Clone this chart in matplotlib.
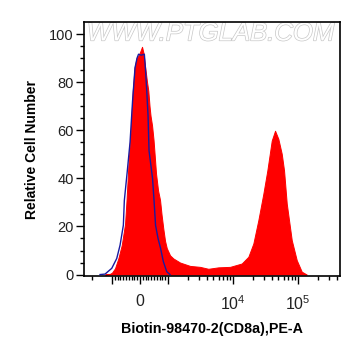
import numpy as np
import matplotlib
matplotlib.use("Agg")
import matplotlib.pyplot as plt  # noqa: E402
import matplotlib.patheffects as pe  # noqa: E402

plt.rcParams["font.family"] = ["Liberation Sans", "DejaVu Sans"]
plt.rcParams["mathtext.fontset"] = "custom"
plt.rcParams["mathtext.rm"] = "Liberation Sans"

# CD8a stained sample (red, filled) - fluorescence value vs relative count
stain_x = [-1281, -1073, -1000, -893, -775, -654, -536, -482, -418, -382,
           -321, -261, -196, -125, -54, 18, 71, 125, 196, 250,
           296, 339, 375, 429, 482, 511, 571, 643, 714, 768,
           832, 893, 954, 1073, 1206, 1530, 2180, 3106, 4169, 5940,
           8990, 13610, 17200, 20530, 24500, 29260, 33710, 39390, 44290, 49780,
           56130, 60900, 67030, 80020, 95500, 114000, 136100]
stain_y = [0, 0.3, 0.8, 2.6, 6.7, 12.2, 21, 31, 45, 51.5,
           62, 76.4, 86, 90, 91, 93, 94.7, 92, 85, 80,
           76.4, 70, 66, 62, 56, 51.5, 42, 35, 31, 25,
           19, 14, 11, 8, 6.7, 5, 3.6, 3.2, 2.4, 3.0,
           3.2, 4.6, 7.4, 12.9, 22.6, 33.6, 43.3, 55.7, 59.8, 56.4,
           50.2, 43.3, 29.5, 14.3, 6.0, 1.2, 0]

# control sample (blue line)
ctrl_x = [-1530, -1281, -1010, -832, -714, -596, -561, -464, -357, -268,
          -179, -107, -54, 36, 154, 196, 239, 286, 321, 446,
          500, 554, 643, 732, 832, 954, 1073]
ctrl_y = [0, 0.2, 2.6, 6.7, 12.2, 20.5, 30.8, 42, 55, 72,
          86, 90, 91.6, 91.2, 91.6, 85, 76.4, 66, 51.5, 40,
          30.8, 20.5, 15, 11, 5.4, 1.2, 0]

major_ticks = [-1000, 0, 1000, 1e4, 1e5]
major_labels = ["", "0", "", r"$10^4$", r"$10^5$"]
minor_ticks = ([-2000] + list(range(-900, 0, 100)) + list(range(100, 1000, 100))
               + list(range(2000, 10000, 1000)) + list(range(20000, 100000, 10000))
               + [200000, 300000, 400000])

fig = plt.figure(figsize=(3.61, 3.56), dpi=100)
ax = fig.add_axes([0.2327, 0.2247, 0.7091, 0.7135])

ax.set_xscale("symlog", linthresh=1000, linscale=0.3877)
ax.fill_between(stain_x, stain_y, 0, facecolor="#ff0000", edgecolor="#ff0000",
                lw=0.7, zorder=2)
ax.plot(ctrl_x, ctrl_y, color="#1a1aa0", lw=1.0, zorder=3)

ax.set_xlim(-2700, 442000)
ax.set_ylim(-0.6, 105)

ax.set_xticks(major_ticks)
ax.set_xticklabels(major_labels)
ax.set_xticks(minor_ticks, minor=True)
ax.set_yticks([0, 20, 40, 60, 80, 100])
ax.set_yticks(np.arange(5, 105, 5), minor=True)
ax.tick_params(which="major", length=6, width=1, labelsize=10.5, colors="black",
               labelcolor="#222222")
ax.tick_params(which="minor", length=3, width=1)
ax.tick_params(axis="x", which="major", pad=7, labelsize=11.5)
ax.tick_params(axis="y", which="major", pad=1.5)

for s in ax.spines.values():
    s.set_linewidth(1.2)

ax.set_xlabel("Biotin-98470-2(CD8a),PE-A", fontsize=10.3, fontweight="bold", labelpad=7)
ax.set_ylabel("Relative Cell Number", fontsize=10, fontweight="bold", labelpad=7)

ax.text(0.495, 0.955, "WWW.PTGLAB.COM", transform=ax.transAxes, ha="center", va="center",
        fontsize=18.5, color="white", style="italic", zorder=1,
        path_effects=[pe.withStroke(linewidth=1.0, foreground="#c8c8c8")])

fig.savefig("out.png", dpi=100)
